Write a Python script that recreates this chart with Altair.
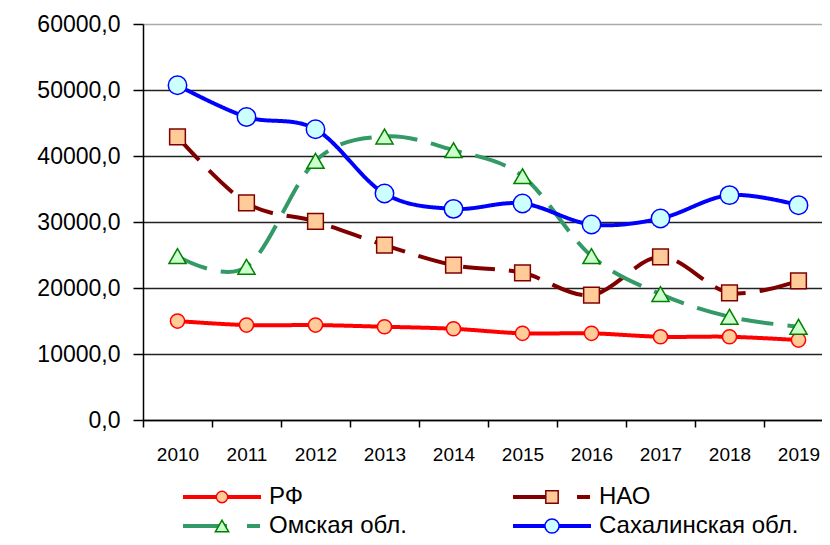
import altair as alt
import pandas as pd

years = [str(y) for y in range(2010, 2020)]
series = ["РФ", "НАО", "Омская обл.", "Сахалинская обл."]

rf = [14990, 14380, 14380, 14130, 13820, 13130, 13130, 12610, 12610, 12110]
nao = [42890, 32900, 30080, 26500, 23470, 22300, 18930, 24720, 19270, 21090]
omsk = [24830, 23210, 39260, 42950, 40880, 36940, 24830, 19080, 15640, 14130]
sakh = [50720, 45920, 44060, 34320, 31990, 32810, 29630, 30540, 34070, 32550]

y_ticks = [0, 10000, 20000, 30000, 40000, 50000, 60000]

line_colors = ["#FF0000", "#800000", "#339966", "#0000FF"]
marker_fill = ["#FFCC99", "#FFCC99", "#CCFFCC", "#CCFFFF"]
marker_stroke = ["#FF0000", "#800000", "#008000", "#0000FF"]
shapes = ["circle", "square", "triangle-up", "circle"]
marker_sizes = [200, 340, 400, 200]
legend_sizes = [130, 200, 280, 130]
dashes = [[1, 0], [32, 14], [32, 14], [1, 0]]
legend_dashes = [[1, 0], [44, 20, 13, 10], [44, 20, 13, 10], [1, 0]]

rows = []
for s, vals in zip(series, [rf, nao, omsk, sakh]):
    for yr, v in zip(years, vals):
        rows.append({"year": yr, "series": s, "value": v})
df = pd.DataFrame(rows)

leg = pd.DataFrame({
    "series": series,
    "col": [i % 2 for i in range(len(series))],
    "row": [i // 2 for i in range(len(series))],
})

FONT = "Liberation Sans"

# category axis runs a little past the right edge of the page, as in the original
xscale = alt.Scale(type="band", paddingInner=0, paddingOuter=0, range=[0, 690])
xaxis = alt.Axis(title=None, labelAngle=0, tickBand="extent", tickSize=7,
                 tickColor="black", tickWidth=1.5, domainColor="black", domainWidth=1.5,
                 labelFont=FONT, labelFontSize=19, labelColor="black", labelPadding=18,
                 grid=False)
yaxis = alt.Axis(title=None, values=y_ticks,
                 labelExpr="replace(format(datum.value, '.1f'), '.', ',')",
                 labelFont=FONT, labelFontSize=23, labelColor="black", labelPadding=13,
                 tickSize=10, tickColor="black", tickWidth=1.5,
                 domainColor="black", domainWidth=1.5,
                 grid=True, gridWidth=1.5,
                 gridColor={"condition": {"test": "datum.value === 60000", "value": "#aaaaaa"},
                            "value": "#222222"})

X = alt.X("year:N", scale=xscale, axis=xaxis)
Y = alt.Y("value:Q", scale=alt.Scale(domain=[0, 60000]), axis=yaxis)

lines = alt.Chart(df).mark_line(interpolate="cardinal", strokeWidth=4).encode(
    x=X, y=Y,
    color=alt.Color("series:N", scale=alt.Scale(domain=series, range=line_colors), legend=None),
    strokeDash=alt.StrokeDash("series:N", scale=alt.Scale(domain=series, range=dashes), legend=None),
)

points = alt.Chart(df).mark_point(filled=True, opacity=1, strokeWidth=1.5).encode(
    x=alt.X("year:N"), y=alt.Y("value:Q"),
    shape=alt.Shape("series:N", scale=alt.Scale(domain=series, range=shapes), legend=None),
    fill=alt.Fill("series:N", scale=alt.Scale(domain=series, range=marker_fill), legend=None),
    stroke=alt.Stroke("series:N", scale=alt.Scale(domain=series, range=marker_stroke), legend=None),
    size=alt.Size("series:N", scale=alt.Scale(domain=series, range=marker_sizes), legend=None),
)

main = alt.layer(lines, points)

LX = alt.X("col:Q", scale=alt.Scale(domain=[0, 1], range=[40, 370]), axis=None)
LY = alt.Y("row:Q", scale=alt.Scale(domain=[0, 1], range=[473, 502]), axis=None)

leg_lines = alt.Chart(leg).mark_rule(strokeWidth=4, x2Offset=78).encode(
    x=LX, x2="col:Q", y=LY,
    color=alt.Color("series:N", scale=alt.Scale(domain=series, range=line_colors), legend=None),
    strokeDash=alt.StrokeDash("series:N", scale=alt.Scale(domain=series, range=legend_dashes), legend=None),
)
leg_points = alt.Chart(leg).mark_point(filled=True, opacity=1, strokeWidth=1.5, xOffset=39).encode(
    x=LX, y=LY,
    shape=alt.Shape("series:N", scale=alt.Scale(domain=series, range=shapes), legend=None),
    fill=alt.Fill("series:N", scale=alt.Scale(domain=series, range=marker_fill), legend=None),
    stroke=alt.Stroke("series:N", scale=alt.Scale(domain=series, range=marker_stroke), legend=None),
    size=alt.Size("series:N", scale=alt.Scale(domain=series, range=legend_sizes), legend=None),
)
leg_text = alt.Chart(leg).mark_text(align="left", baseline="middle", dx=86, fontSize=24,
                                     font=FONT, color="black").encode(
    x=LX, y=LY, text="series:N",
)
legend_layer = alt.layer(leg_lines, leg_points, leg_text)

chart = alt.layer(main, legend_layer).resolve_scale(
    x="independent", y="independent", color="independent", strokeDash="independent",
    shape="independent", fill="independent", stroke="independent", size="independent",
).properties(
    width=679, height=396,
    autosize=alt.AutoSizeParams(type="none"),
    padding={"left": 135, "top": 16, "right": 0, "bottom": 117},
    background="white",
).configure_view(stroke=None)

chart.save("out.html", embed_options={"renderer": "svg", "actions": False})
